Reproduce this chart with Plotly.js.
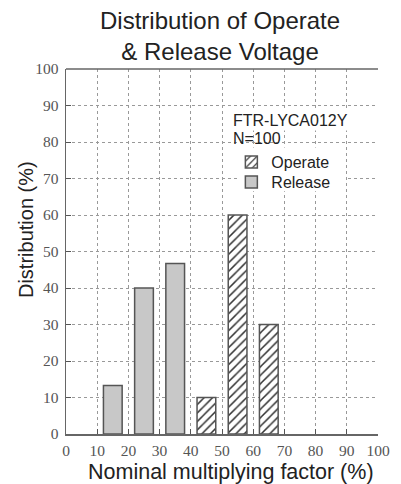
<!DOCTYPE html>
<html>
<head>
<meta charset="utf-8">
<script src="https://cdn.plot.ly/plotly-3.0.1.min.js"></script>
<style>html,body{margin:0;padding:0;background:#fff;}#chart{width:401px;height:484px;}</style>
</head>
<body>
<div id="chart"></div>
<script>
const releaseX = [15, 25, 35];
const releaseY = [13.3, 40, 46.7];
const operateX = [45, 55, 65];
const operateY = [10, 60, 30];
const tickVals = [0, 10, 20, 30, 40, 50, 60, 70, 80, 90, 100];
const tickText = tickVals.map(String);

const traces = [
  {
    type: 'bar', name: 'Operate', x: operateX, y: operateY, width: 6, legend: 'legend',
    marker: {color: '#ffffff', line: {color: '#555555', width: 1.5},
      pattern: {shape: '/', fgcolor: '#333333', bgcolor: '#ffffff', size: 6, solidity: 0.25}}
  },
  {
    type: 'bar', name: 'Release', x: releaseX, y: releaseY, width: 6, legend: 'legend2',
    marker: {color: '#c8c8c8', line: {color: '#555555', width: 1.5}}
  }
];

const sans = 'Liberation Sans, Arial, sans-serif';
const serif = 'Liberation Serif, Times New Roman, serif';
const legendFont = {family: sans, size: 16, color: '#222222'};
const clear = 'rgba(0,0,0,0)';

const layout = {
  width: 401, height: 484,
  margin: {l: 66, r: 23, t: 69, b: 50},
  paper_bgcolor: '#ffffff', plot_bgcolor: '#ffffff',
  barmode: 'overlay',
  showlegend: true,
  legend: {x: 0.53, y: 0.745, xanchor: 'left', yanchor: 'middle', bgcolor: clear, font: legendFont, itemwidth: 30},
  legend2: {x: 0.53, y: 0.690, xanchor: 'left', yanchor: 'middle', bgcolor: clear, font: legendFont, itemwidth: 30},
  xaxis: {range: [0, 100], tickvals: tickVals, ticktext: tickText, ticks: 'inside', ticklen: 5, tickcolor: '#555555',
    showline: true, linecolor: '#666666', linewidth: 1.5, zeroline: false,
    showgrid: true, gridcolor: '#999999', griddash: 'dot', gridwidth: 1,
    ticklabelstandoff: 2,
    tickfont: {family: serif, size: 15.5, color: '#555555'}},
  yaxis: {range: [0, 100], tickvals: tickVals, ticktext: tickText, ticks: 'inside', ticklen: 5, tickcolor: '#555555',
    showline: true, linecolor: '#666666', linewidth: 1.5, zeroline: false,
    showgrid: true, gridcolor: '#999999', griddash: 'dot', gridwidth: 1,
    ticklabelstandoff: 3,
    tickfont: {family: serif, size: 15.5, color: '#555555'}},
  shapes: [
    {type: 'line', xref: 'paper', yref: 'paper', x0: 0, x1: 1, y0: 1, y1: 1, line: {color: '#666666', width: 1.5}, layer: 'above'},
    {type: 'line', xref: 'x', yref: 'y', x0: 100, x1: 100, y0: 0.4, y1: 99.6, line: {color: '#ffffff', width: 2}, layer: 'between'},
    {type: 'rect', xref: 'x', yref: 'y', x0: 55.5, x1: 89.5, y0: 66.5, y1: 78.5, line: {width: 0}, fillcolor: '#ffffff', layer: 'between'}
  ],
  annotations: [
    {xref: 'paper', yref: 'paper', x: 0.494, y: 1.005, xanchor: 'center', yanchor: 'bottom', showarrow: false,
      text: 'Distribution of Operate<br>& Release Voltage', font: {family: sans, size: 24, color: '#222222'}},
    {xref: 'paper', yref: 'paper', x: 0.53, y: 0.86, xanchor: 'left', yanchor: 'middle', showarrow: false, bgcolor: '#ffffff',
      text: 'FTR-LYCA012Y', font: {family: sans, size: 16, color: '#222222'}},
    {xref: 'paper', yref: 'paper', x: 0.53, y: 0.81, xanchor: 'left', yanchor: 'middle', showarrow: false,
      text: 'N=100', font: {family: sans, size: 16, color: '#222222'}},
    {xref: 'paper', yref: 'paper', x: 0.529, y: -0.104, xanchor: 'center', yanchor: 'middle', showarrow: false,
      text: 'Nominal multiplying factor (%)', font: {family: sans, size: 21.5, color: '#222222'}},
    {xref: 'paper', yref: 'paper', x: -0.128, y: 0.559, xanchor: 'center', yanchor: 'middle', showarrow: false, textangle: -90,
      text: 'Distribution (%)', font: {family: sans, size: 20, color: '#222222'}}
  ]
};

Plotly.newPlot('chart', traces, layout, {staticPlot: true, displayModeBar: false});
</script>
</body>
</html>
